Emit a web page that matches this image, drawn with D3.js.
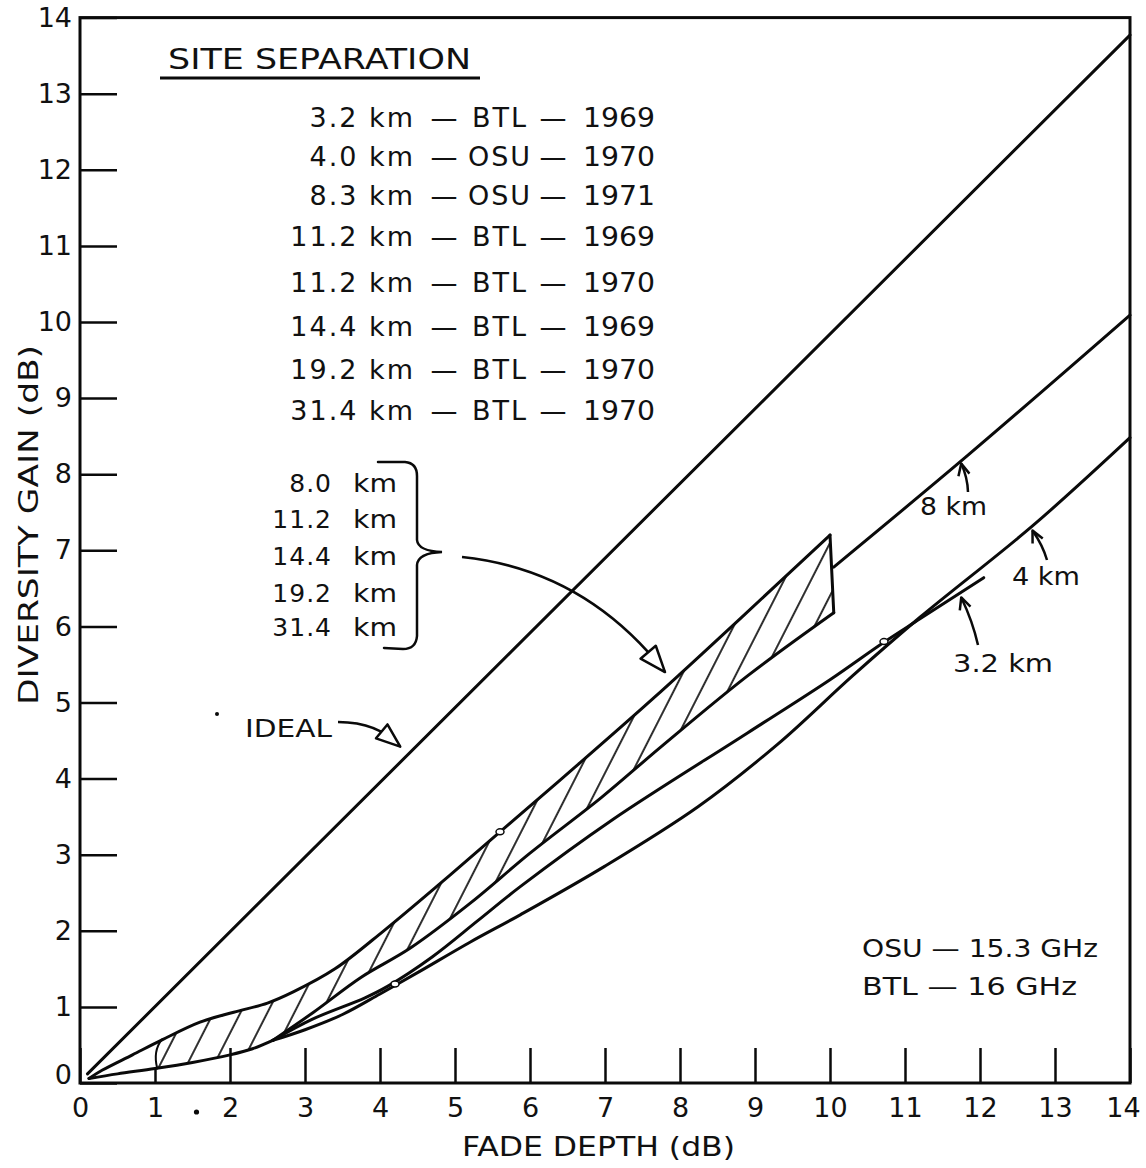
<!DOCTYPE html>
<html>
<head>
<meta charset="utf-8">
<script src="https://cdn.jsdelivr.net/npm/d3@7"></script>
<style>
  html, body { margin: 0; padding: 0; background: #fff; }
  svg text { font-family: 'DejaVu Sans', 'Liberation Sans', sans-serif; fill: #111; }
</style>
</head>
<body>
<svg id="chart" width="1146" height="1168"></svg>
<script>
// ---- data (fade depth dB, diversity gain dB) ----
const xTickValues = [0,1,2,3,4,5,6,7,8,9,10,11,12,13,14];
const yTickValues = [0,1,2,3,4,5,6,7,8,9,10,11,12,13,14];

const idealLine = [[0.1,0.12],[14,13.77]];

// common low-fade start shared by all measured separations
const baseCurve = [[0.12,0.06],[0.5,0.12],[1.0,0.19],[1.5,0.27],[2.0,0.37],[2.3,0.45],[2.57,0.56]];

// envelope of the 8.0 - 31.4 km group (hatched band)
const bandUpper = [[0.12,0.06],[0.3,0.17],[0.7,0.37],[1.1,0.57],[1.6,0.8],[2.05,0.93],[2.5,1.05],
                   [2.85,1.2],[3.4,1.5],[4.05,2.0],[4.8,2.62],[5.6,3.3],[6.6,4.15],[7.65,5.06],
                   [8.8,6.1],[10.0,7.2]];
const bandLower = [[2.57,0.56],[3.1,0.92],[3.75,1.39],[4.4,1.77],[5.2,2.36],[6.0,3.02],[6.95,3.75],
                   [7.75,4.42],[8.9,5.35],[10.05,6.18]];

const curve8km  = [[10.05,6.78],[11.84,8.25],[14,10.09]];
const curve32km = [[2.57,0.56],[3.1,0.84],[3.8,1.12],[4.1,1.27],[4.7,1.66],[5.3,2.13],[5.87,2.58],
                   [7.1,3.46],[8.9,4.6],[10.0,5.3],[10.7,5.78],[11.2,6.1],[12.05,6.64]];
const curve4km  = [[2.57,0.56],[3.0,0.7],[3.5,0.9],[4.0,1.17],[4.5,1.45],[5.2,1.85],[5.87,2.21],
                   [7.0,2.85],[8.24,3.63],[9.3,4.45],[10.3,5.35],[11.2,6.12],[12.7,7.32],[14,8.48]];

// site separation list
const siteDistances = ["3.2 km","4.0 km","8.3 km","11.2 km","11.2 km","14.4 km","19.2 km","31.4 km"];
const siteLabs      = ["BTL","OSU","OSU","BTL","BTL","BTL","BTL","BTL"];
const siteYears     = ["1969","1970","1971","1969","1970","1969","1970","1970"];
const bandDistances = ["8.0","11.2","14.4","19.2","31.4"];
const freqLines     = ["OSU — 15.3 GHz","BTL — 16 GHz"];

// ---- drawing ----
const svg = d3.select('#chart');
const x = d3.scaleLinear().domain([0,14]).range([80,1130]);
const y = d3.scaleLinear().domain([0,14]).range([1083,17.6]);
const line = d3.line().x(d => x(d[0])).y(d => y(d[1])).curve(d3.curveCatmullRom.alpha(0.5));
const ink = '#0a0a0a';

// hatch pattern for the band
const defs = svg.append('defs');
const pat = defs.append('pattern')
  .attr('id','hatch').attr('patternUnits','userSpaceOnUse')
  .attr('width',24).attr('height',40)
  .attr('patternTransform','rotate(27)');
pat.append('line').attr('x1',2).attr('y1',-5).attr('x2',2).attr('y2',45)
  .attr('stroke',ink).attr('stroke-width',1.7);

// band outline used for the hatch fill
const upperPart = [[1.08,0.56]].concat(bandUpper.filter(d => d[0] >= 1.1));
const lowerPart = baseCurve.filter(d => d[0] >= 1.0).concat(bandLower.slice(1)).reverse();
const bandPath = line(upperPart) + 'L' + line(lowerPart).slice(1) + 'Z';
svg.append('path').attr('d', bandPath).attr('fill','url(#hatch)').attr('stroke','none');

// frame
svg.append('rect')
  .attr('x', x(0)).attr('y', y(14))
  .attr('width', x(14) - x(0)).attr('height', y(0) - y(14))
  .attr('fill','none').attr('stroke',ink).attr('stroke-width',3);

// axes
const yAxis = d3.axisLeft(y).tickValues(yTickValues).tickSize(-37).tickPadding(8).tickFormat(d3.format('d'));
const gy = svg.append('g').attr('transform',`translate(${x(0)},0)`).call(yAxis);
const xAxis = d3.axisBottom(x).tickValues(xTickValues).tickSize(-35).tickPadding(15).tickFormat(d3.format('d'));
const gx = svg.append('g').attr('transform',`translate(0,${y(0)})`).call(xAxis);
[gx, gy].forEach(g => {
  g.select('.domain').remove();
  g.selectAll('.tick line').attr('stroke',ink).attr('stroke-width',2.5);
  g.selectAll('.tick text').attr('font-size',27).attr('fill','#111')
    .attr('font-family',"'DejaVu Sans', sans-serif");
});
gx.selectAll('.tick').filter(d => d === 1).select('line').attr('y2',-15);
gx.selectAll('.tick').filter(d => d === 14).select('text').attr('x',-7);
gy.selectAll('.tick').filter(d => d === 0).select('text').attr('y',-8);
// pen dot between the 1 and 2 labels
svg.append('circle').attr('cx', x(1.5) + 4).attr('cy', y(0) + 29).attr('r', 2.6).attr('fill', ink);

// axis titles
svg.append('text').attr('x',462).attr('y',1156).attr('font-size',27)
  .attr('textLength',273).attr('lengthAdjust','spacingAndGlyphs').text('FADE DEPTH (dB)');
svg.append('text').attr('transform','translate(38,525) rotate(-90)')
  .attr('text-anchor','middle').attr('font-size',27)
  .attr('textLength',360).attr('lengthAdjust','spacingAndGlyphs').text('DIVERSITY GAIN (dB)');

// curves
const stroke = sel => sel.attr('fill','none').attr('stroke',ink).attr('stroke-width',3)
  .attr('stroke-linecap','round').attr('stroke-linejoin','round');
svg.append('path').attr('d', line(idealLine)).call(stroke);
svg.append('path').attr('d', line(baseCurve)).call(stroke);
svg.append('path').attr('d', line(bandUpper)).call(stroke);
svg.append('path').attr('d', line(bandLower)).call(stroke);
svg.append('path').attr('d', line(curve32km)).call(stroke);
svg.append('path').attr('d', line(curve4km)).call(stroke);
svg.append('path').attr('d', line(curve8km)).call(stroke);
// right edge of the band and its rounded left end
const bandTop = bandUpper[bandUpper.length - 1], bandBot = bandLower[bandLower.length - 1];
svg.append('path').attr('d', d3.line()([[x(bandTop[0]), y(bandTop[1])], [x(bandBot[0]), y(bandBot[1])]])).call(stroke);
svg.append('path')
  .attr('d', `M${x(1.03)},${y(0.19)} Q${x(0.97)},${y(0.42)} ${x(1.09)},${y(0.57)}`)
  .call(stroke).attr('stroke-width',2);

// little pen loops where curves meet
[[5.6,3.3],[10.72,5.8],[4.2,1.3]].forEach(p => {
  svg.append('ellipse').attr('cx', x(p[0])).attr('cy', y(p[1])).attr('rx',4).attr('ry',3)
    .attr('fill','#fff').attr('stroke',ink).attr('stroke-width',1.5);
});

// ---- legend: site separation ----
svg.append('text').attr('x',168).attr('y',69).attr('font-size',29)
  .attr('textLength',303).attr('lengthAdjust','spacingAndGlyphs').text('SITE SEPARATION');
svg.append('line').attr('x1',160).attr('x2',480).attr('y1',78).attr('y2',78)
  .attr('stroke',ink).attr('stroke-width',3);

const rowBase = [127,166,205,246,292,336,379,420];
siteDistances.forEach((d, i) => {
  const yy = rowBase[i];
  svg.append('text').attr('x',415).attr('y',yy).attr('text-anchor','end')
    .attr('font-size',27).attr('letter-spacing',2).text(d);
  svg.append('text').attr('x',444).attr('y',yy).attr('text-anchor','middle').attr('font-size',27).text('—');
  svg.append('text').attr('x',500).attr('y',yy).attr('text-anchor','middle')
    .attr('font-size',27).attr('letter-spacing',2).text(siteLabs[i]);
  svg.append('text').attr('x',553).attr('y',yy).attr('text-anchor','middle').attr('font-size',27).text('—');
  svg.append('text').attr('x',583).attr('y',yy).attr('font-size',27)
    .attr('textLength',72).attr('lengthAdjust','spacingAndGlyphs').text(siteYears[i]);
});

// ---- bracketed group ----
const bandBase = [492,528,565,602,636];
bandDistances.forEach((d, i) => {
  svg.append('text').attr('x',332).attr('y',bandBase[i]).attr('text-anchor','end')
    .attr('font-size',25).attr('letter-spacing',1).text(d);
  svg.append('text').attr('x',353).attr('y',bandBase[i]).attr('font-size',25)
    .attr('textLength',44).attr('lengthAdjust','spacingAndGlyphs').text('km');
});
svg.append('path')
  .attr('d','M378,462 L405,462 Q417,463 417,476 L417,540 Q418,551 442,552 Q418,553 417,565 L417,636 Q416,649 403,649 L384,648')
  .attr('fill','none').attr('stroke',ink).attr('stroke-width',2.5).attr('stroke-linecap','round');

// open triangular arrowhead
function openHead(tip, from, len, half) {
  const dx = tip[0] - from[0], dy = tip[1] - from[1];
  const L = Math.hypot(dx, dy), ux = dx / L, uy = dy / L;
  const bx = tip[0] - ux * len, by = tip[1] - uy * len;
  return `M${tip[0]},${tip[1]} L${bx - uy * half},${by + ux * half} L${bx + uy * half},${by - ux * half} Z`;
}
// chevron arrowhead
function chevron(tip, from, len) {
  const a = Math.atan2(from[1] - tip[1], from[0] - tip[0]);
  const p1 = [tip[0] + len * Math.cos(a + 0.45), tip[1] + len * Math.sin(a + 0.45)];
  const p2 = [tip[0] + len * Math.cos(a - 0.45), tip[1] + len * Math.sin(a - 0.45)];
  return `M${p1[0]},${p1[1]} L${tip[0]},${tip[1]} L${p2[0]},${p2[1]}`;
}

// arrow from the bracket to the band
const bTip = [x(7.8), y(5.4)];
svg.append('path').attr('d', `M462,557 Q585,570 ${bTip[0]},${bTip[1]}`)
  .attr('fill','none').attr('stroke',ink).attr('stroke-width',2.5);
svg.append('path').attr('d', openHead(bTip, [x(7.3), y(5.98)], 26, 10))
  .attr('fill','#fff').attr('stroke',ink).attr('stroke-width',2.5).attr('stroke-linejoin','round');

// IDEAL label and arrow
svg.append('text').attr('x',245).attr('y',737).attr('font-size',25)
  .attr('textLength',87).attr('lengthAdjust','spacingAndGlyphs').text('IDEAL');
svg.append('circle').attr('cx',217).attr('cy',714).attr('r',2).attr('fill',ink);
const iTip = [x(4.27), y(4.42)];
svg.append('path').attr('d', `M338,722 Q378,722 ${iTip[0]},${iTip[1]}`)
  .attr('fill','none').attr('stroke',ink).attr('stroke-width',2.5);
svg.append('path').attr('d', openHead(iTip, [x(3.95), y(4.68)], 24, 9))
  .attr('fill','#fff').attr('stroke',ink).attr('stroke-width',2.5).attr('stroke-linejoin','round');

// curve labels with pointer arrows
const curveLabels = [
  { text: '8 km',   tx: 920, ty: 515, len: 67,  tip: [11.75, 8.18], from: [968, 492] },
  { text: '4 km',   tx: 1012, ty: 585, len: 68, tip: [12.7, 7.3],   from: [1047, 560] },
  { text: '3.2 km', tx: 953, ty: 672, len: 100, tip: [11.75, 6.42], from: [978, 645] }
];
curveLabels.forEach(c => {
  svg.append('text').attr('x', c.tx).attr('y', c.ty).attr('font-size',24)
    .attr('textLength', c.len).attr('lengthAdjust','spacingAndGlyphs').text(c.text);
  const t = [x(c.tip[0]), y(c.tip[1]) + 3];
  const mid = [(t[0] + c.from[0]) / 2 + 3, (t[1] + c.from[1]) / 2];
  svg.append('path').attr('d', `M${c.from[0]},${c.from[1]} Q${mid[0]},${mid[1]} ${t[0]},${t[1]}`)
    .attr('fill','none').attr('stroke',ink).attr('stroke-width',2.5);
  svg.append('path').attr('d', chevron(t, c.from, 13))
    .attr('fill','none').attr('stroke',ink).attr('stroke-width',2.5).attr('stroke-linejoin','round');
});

// frequency note
const freqBase = [957, 995];
const freqLen = [236, 215];
freqLines.forEach((t, i) => {
  svg.append('text').attr('x',862).attr('y',freqBase[i]).attr('font-size',24)
    .attr('textLength',freqLen[i]).attr('lengthAdjust','spacingAndGlyphs').text(t);
});
</script>
</body>
</html>
